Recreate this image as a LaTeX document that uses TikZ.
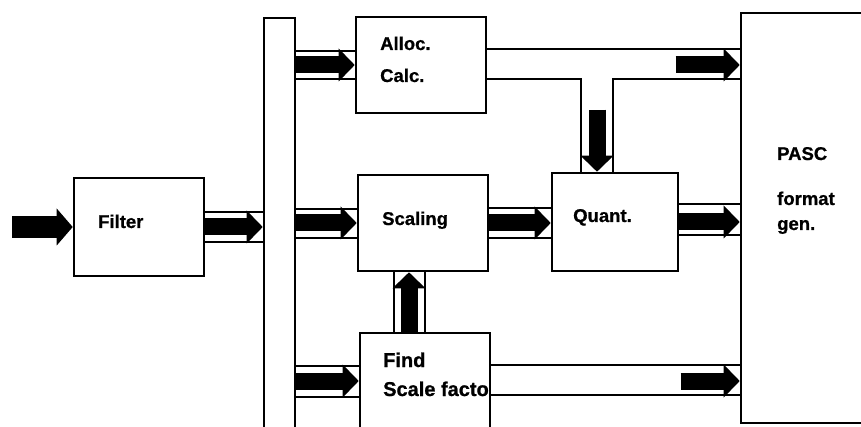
\documentclass[tikz,border=0pt]{standalone}
\usepackage{fontspec}
\setmainfont{Liberation Sans}[BoldFeatures={FakeBold=0.8}]
\usetikzlibrary{arrows.meta,calc}

\tikzset{
    blk/.style={draw, line width=2.6pt, inner sep=0pt},
    lbl/.style={anchor=base west, inner sep=0pt, font=\fontsize{18.5}{22}\selectfont\bfseries},
    chan/.style={line width=1.3pt},
    fat/.style={line width=17pt, -{Triangle[length=16pt, width=33pt, line width=0pt]}},
    fatin/.style={line width=22pt, -{Triangle[length=16pt, width=37pt, line width=0pt]}},
}

\begin{document}
\begin{tikzpicture}[x=1pt, y=-1pt]
    \useasboundingbox (0,0) rectangle (861,427);

    \node[blk, minimum width=130pt, minimum height=98pt] (filter) at (139,227) {};
    \node[blk, minimum width=31pt, minimum height=424pt] (bus) at (279.5,230) {};
    \node[blk, minimum width=130pt, minimum height=96pt] (alloc) at (421,65) {};
    \node[blk, minimum width=130pt, minimum height=96pt] (scaling) at (423,223) {};
    \node[blk, minimum width=126pt, minimum height=98pt] (quant) at (615,222) {};
    \node[blk, minimum width=130pt, minimum height=96pt] (find) at (425,381) {};
    \node[blk, minimum width=160pt, minimum height=410pt] (pasc) at (821,218) {};

    \node[lbl] (tfilter) at (98,228) {Filter};
    \node[lbl] (talloc) at (380,50) {Alloc.};
    \node[lbl] (tcalc) at (380,82) {Calc.};
    \node[lbl] (tscaling) at (382,225) {Scaling};
    \node[lbl] (tquant) at (573,222) {Quant.};
    \node[lbl] (tpasc) at (777,160) {PASC};
    \node[lbl] (tformat) at (777,205) {format};
    \node[lbl] (tgen) at (777,230) {gen.};
    \begin{scope}
        \clip ($(find.north west)+(1.3,0)$) rectangle ($(find.south east)+(-1.3,0)$);
        \node[lbl, font=\fontsize{20}{24}\selectfont\bfseries] (tfind) at (383,367) {Find};
        \node[lbl, font=\fontsize{20}{24}\selectfont\bfseries] (tscale) at (383,396) {Scale factor};
    \end{scope}

    \coordinate (in) at (12,227);
    \coordinate (qd) at ($(quant.north)+(-18,0)$);
    \coordinate (qs) at ($(qd)+(0,-62)$);
    \coordinate (sf) at ($(find.north)+(-16,0)$);
    \coordinate (pa) at ($(alloc.east -| pasc.west)+(-64,0)$);
    \coordinate (pf) at ($(find.east -| pasc.west)+(-59,0)$);

    \draw[chan]
        ($(filter.east)+(0,-15)$) -- ($(filter.east -| bus.west)+(0,-15)$)
        ($(filter.east)+(0,15)$) -- ($(filter.east -| bus.west)+(0,15)$)

        ($(bus.east |- alloc.west)+(0,-14)$) -- ($(alloc.west)+(0,-14)$)
        ($(bus.east |- alloc.west)+(0,14)$) -- ($(alloc.west)+(0,14)$)
        ($(bus.east |- scaling.west)+(0,-14)$) -- ($(scaling.west)+(0,-14)$)
        ($(bus.east |- scaling.west)+(0,15)$) -- ($(scaling.west)+(0,15)$)
        ($(bus.east |- find.west)+(0,-15)$) -- ($(find.west)+(0,-15)$)
        ($(bus.east |- find.west)+(0,16)$) -- ($(find.west)+(0,16)$)

        ($(scaling.east)+(0,-15)$) -- ($(scaling.east -| quant.west)+(0,-15)$)
        ($(scaling.east)+(0,15)$) -- ($(scaling.east -| quant.west)+(0,15)$)
        ($(quant.east)+(0,-18)$) -- ($(quant.east -| pasc.west)+(0,-18)$)
        ($(quant.east)+(0,13)$) -- ($(quant.east -| pasc.west)+(0,13)$)

        ($(alloc.east)+(0,-16)$) -- ($(alloc.east -| pasc.west)+(0,-16)$)
        ($(alloc.east)+(0,14)$) -| ($(qd)+(-16,0)$)
        ($(qd)+(16,0)$) |- ($(alloc.east -| pasc.west)+(0,14)$)

        ($(find.east)+(0,-16)$) -- ($(find.east -| pasc.west)+(0,-16)$)
        ($(find.east)+(0,14)$) -- ($(find.east -| pasc.west)+(0,14)$)

        ($(sf)+(-15,0)$) -- ($(sf |- scaling.south)+(-15,0)$)
        ($(sf)+(16,0)$) -- ($(sf |- scaling.south)+(16,0)$);

    \draw[fatin] (in) -- (filter.west);
    \draw[fat] (filter.east) -- (filter.east -| bus.west);
    \draw[fat] (bus.east |- alloc.west) -- (alloc.west);
    \draw[fat] (bus.east |- scaling.west) -- (scaling.west);
    \draw[fat] (bus.east |- find.west) -- (find.west);
    \draw[fat] (scaling.east) -- (scaling.east -| quant.west);
    \draw[fat] (quant.east) -- (quant.east -| pasc.west);
    \draw[fat] (qs) -- (qd);
    \draw[fat] (pa) -- (alloc.east -| pasc.west);
    \draw[fat] (pf) -- (find.east -| pasc.west);
    \draw[fat] (sf) -- (sf |- scaling.south);

\end{tikzpicture}
\end{document}
